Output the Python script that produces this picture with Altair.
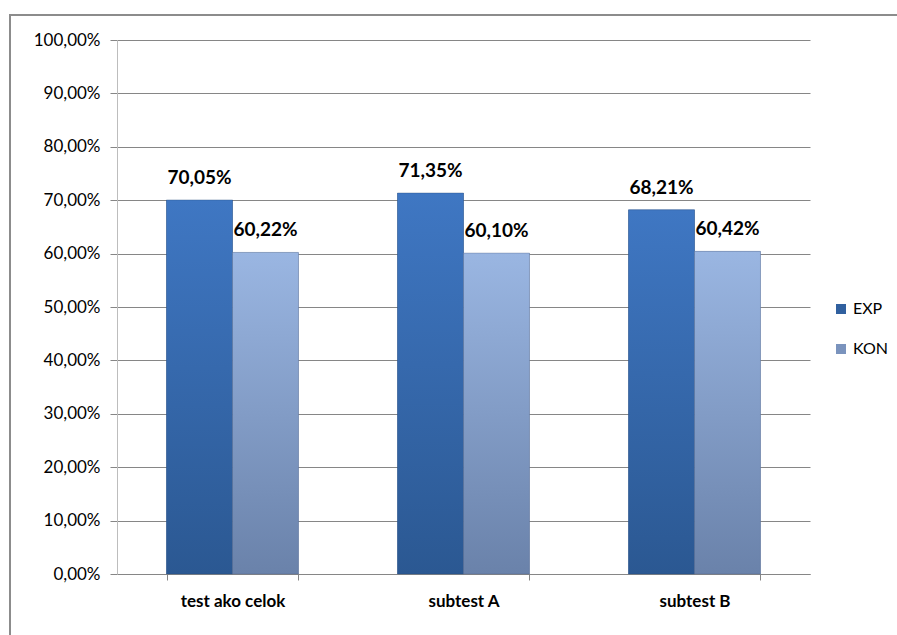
import altair as alt
import pandas as pd

categories = ["test ako celok", "subtest A", "subtest B"]
series = ["EXP", "KON"]
exp_values = [0.7005, 0.7135, 0.6821]
kon_values = [0.6022, 0.6010, 0.6042]
y_ticks = [i / 10 for i in range(11)]

rows = []
for c, e, k in zip(categories, exp_values, kon_values):
    rows.append({"category": c, "series": "EXP", "value": e})
    rows.append({"category": c, "series": "KON", "value": k})
df = pd.DataFrame(rows)

FONT = "Lato"
W, H = 693, 534

x = alt.X(
    "category:N", sort=categories, title=None,
    scale=alt.Scale(paddingInner=0.4286, paddingOuter=0.2143),
    axis=alt.Axis(labelAngle=0, labelFontWeight="bold", labelFontSize=17,
                  labelColor="#000000", labelPadding=13, labelFont=FONT,
                  tickBand="extent", domainColor="#868686", tickColor="#868686",
                  tickSize=6, grid=False),
)
xo = alt.XOffset("series:N", sort=series, scale=alt.Scale(domain=series))
y = alt.Y(
    "value:Q", title=None, scale=alt.Scale(domain=[0, 1], nice=False),
    axis=alt.Axis(values=y_ticks,
                  labelExpr="replace(format(datum.value, '.2%'), '.', ',')",
                  labelFontSize=17, labelFont=FONT, labelColor="#000000",
                  labelPadding=10, tickSize=7, tickColor="#868686",
                  domainColor="#bdbdbd", gridColor="#868686", gridWidth=1),
)

base = alt.Chart(df)

bars = base.mark_bar().encode(
    x=x, xOffset=xo, y=y,
    color=alt.Color("series:N", sort=series,
                    scale=alt.Scale(domain=series, range=["#30609f", "#7a93bd"]),
                    legend=alt.Legend(title=None, orient="none", legendX=716, legendY=261,
                                      symbolType="square", symbolSize=100,
                                      symbolStrokeWidth=0,
                                      labelFontSize=16, labelFont=FONT,
                                      labelColor="#000000", rowPadding=24,
                                      labelOffset=4)),
)

grad_exp = alt.Gradient(gradient="linear", x1=0, y1=0, x2=0, y2=1,
                        stops=[alt.GradientStop(color="#3f77c3", offset=0),
                               alt.GradientStop(color="#2b5892", offset=1)])
grad_kon = alt.Gradient(gradient="linear", x1=0, y1=0, x2=0, y2=1,
                        stops=[alt.GradientStop(color="#9ab6e2", offset=0),
                               alt.GradientStop(color="#6a82aa", offset=1)])

exp_layer = base.transform_filter(alt.datum.series == "EXP").mark_bar(
    color=grad_exp, stroke="#24497a", strokeWidth=0.6, strokeOpacity=0.6
).encode(x=x, xOffset=xo, y=y)
kon_layer = base.transform_filter(alt.datum.series == "KON").mark_bar(
    color=grad_kon, stroke="#4e6386", strokeWidth=0.6, strokeOpacity=0.6
).encode(x=x, xOffset=xo, y=y)

labels = base.transform_calculate(
    label="replace(format(datum.value, '.2%'), '.', ',')"
).mark_text(baseline="bottom", dy=-12, fontSize=19, fontWeight="bold",
            font=FONT, color="#000000").encode(x=x, xOffset=xo, y=y, text="label:N")

border = alt.Chart(pd.DataFrame({"a": [0]})).mark_rect(
    filled=False, stroke="#8c8c8c", strokeWidth=2
).encode(x=alt.value(-107), x2=alt.value(800), y=alt.value(-25), y2=alt.value(700))

chart = alt.layer(bars, exp_layer, kon_layer, labels, border).properties(
    width=W, height=H,
    autosize=alt.AutoSizeParams(type="none"),
    padding={"left": 117, "top": 40, "right": 87, "bottom": 61},
    background="#ffffff",
).configure_view(strokeWidth=0)

chart.save("out.html", embed_options={"renderer": "svg", "actions": False})
